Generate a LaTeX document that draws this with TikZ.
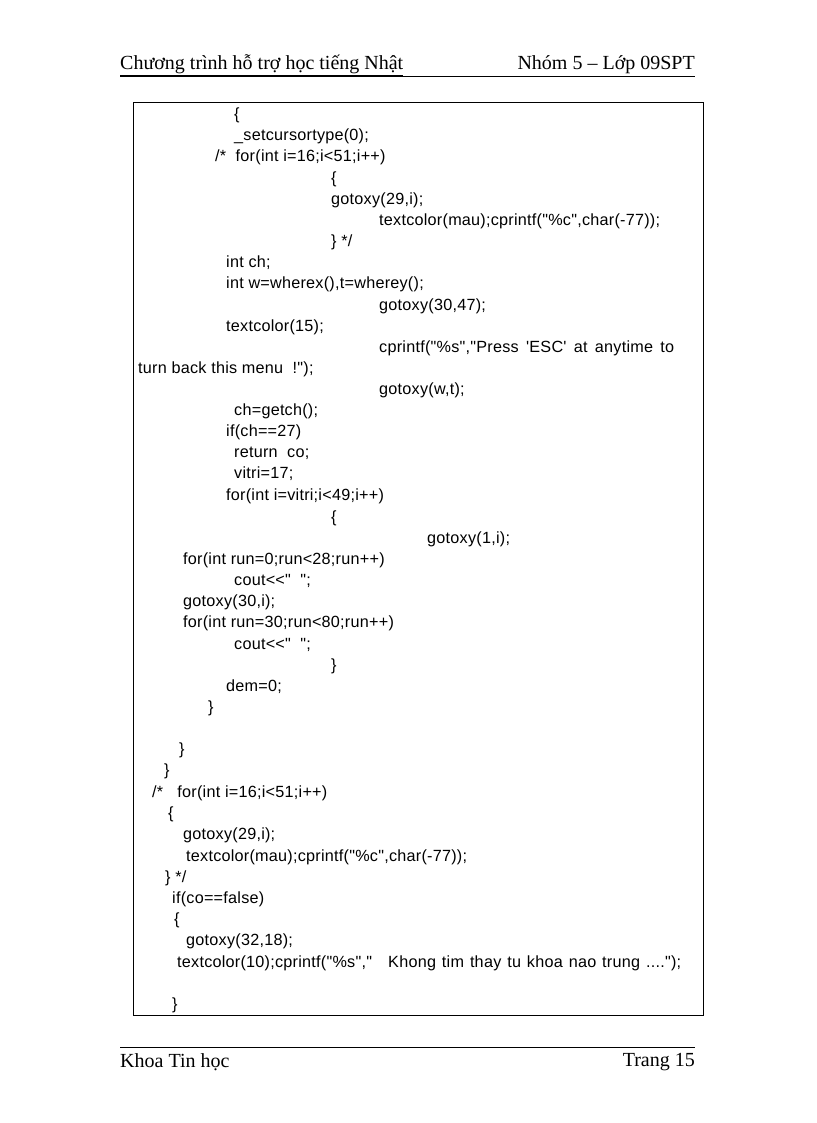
\documentclass[tikz,border=0pt]{standalone}
\usepackage{fontspec}
\setmainfont{Liberation Serif}
\newfontfamily\codefont{Liberation Sans}[LetterSpace=1.5]
\begin{document}
\begin{tikzpicture}[x=1pt,y=-1pt,
  code/.style={anchor=west,inner sep=0pt,font=\codefont\fontsize{16.2}{16}\selectfont},
  hdr/.style={inner sep=0pt,font=\fontsize{20}{20}\selectfont},
  ftr/.style={inner sep=0pt,font=\fontsize{20}{20}\selectfont}]
\useasboundingbox (0,0) rectangle (816,1123);
\node[hdr,anchor=west] (h1) at (120,65) {\underline{Chương trình hỗ trợ học tiếng Nhật}};
\node[hdr,anchor=east] (h2) at (695,65) {Nhóm 5 – Lớp 09SPT};
\draw[line width=0.8pt] (120,76) -- (695,76);
\draw[line width=0.8pt] (133,102) rectangle (703,1015);
\draw[line width=0.8pt] (120,1047) -- (695,1047);
\node[ftr,anchor=west] (f1) at (120,1062) {Khoa Tin học};
\node[ftr,anchor=east] (f2) at (695,1062) {Trang 15};
\node[code] (c1) at (234,115) {\{};
\node[code] (c2) at (234,136) {\_setcursortype(0);};
\node[code] (c3) at (215,157) {/*\ \ for(int i=16;i<51;i++)};
\node[code] (c4) at (331,179) {\{};
\node[code] (c5) at (331,200) {gotoxy(29,i);};
\node[code] (c6) at (379,221) {textcolor(mau);cprintf("\%c",char(-77));};
\node[code] (c7) at (331,242) {\} */};
\node[code] (c8) at (226,263) {int ch;};
\node[code] (c9) at (226,284) {int w=wherex(),t=wherey();};
\node[code] (c10) at (379,306) {gotoxy(30,47);};
\node[code] (c11) at (226,327) {textcolor(15);};
\node[code,text width=295pt] (c12) at (379,348) {cprintf("\%s","Press\hfill'ESC'\hfill at\hfill anytime\hfill to};
\node[code] (c13) at (138,369) {turn back this menu\ \ !");};
\node[code] (c14) at (379,390) {gotoxy(w,t);};
\node[code] (c15) at (234,411) {ch=getch();};
\node[code] (c16) at (226,432) {if(ch==27)};
\node[code] (c17) at (234,453) {return\ \ co;};
\node[code] (c18) at (234,474) {vitri=17;};
\node[code] (c19) at (226,496) {for(int i=vitri;i<49;i++)};
\node[code] (c20) at (331,518) {\{};
\node[code] (c21) at (427,539) {gotoxy(1,i);};
\node[code] (c22) at (183,560) {for(int run=0;run<28;run++)};
\node[code] (c23) at (234,581) {cout<<"\ \ ";};
\node[code] (c24) at (183,602) {gotoxy(30,i);};
\node[code] (c25) at (183,623) {for(int run=30;run<80;run++)};
\node[code] (c26) at (234,645) {cout<<"\ \ ";};
\node[code] (c27) at (331,666) {\}};
\node[code] (c28) at (226,687) {dem=0;};
\node[code] (c29) at (208,708) {\}};
\node[code] (c30) at (179,750) {\}};
\node[code] (c31) at (164,771) {\}};
\node[code] (c32) at (152,793) {/*\ \ \ for(int i=16;i<51;i++)};
\node[code] (c33) at (168,814) {\{};
\node[code] (c34) at (183,835) {gotoxy(29,i);};
\node[code] (c35) at (186,857) {textcolor(mau);cprintf("\%c",char(-77));};
\node[code] (c36) at (165,878) {\} */};
\node[code] (c37) at (172,899) {if(co==false)};
\node[code] (c38) at (174,920) {\{};
\node[code] (c39) at (186,941) {gotoxy(32,18);};
\node[code,text width=504pt] (c40) at (177,963) {textcolor(10);cprintf("\%s","\ \ \ Khong\hfill tim\hfill thay\hfill tu\hfill khoa\hfill nao\hfill trung\hfill ....");};
\node[code] (c41) at (172,1005) {\}};
\end{tikzpicture}
\end{document}
